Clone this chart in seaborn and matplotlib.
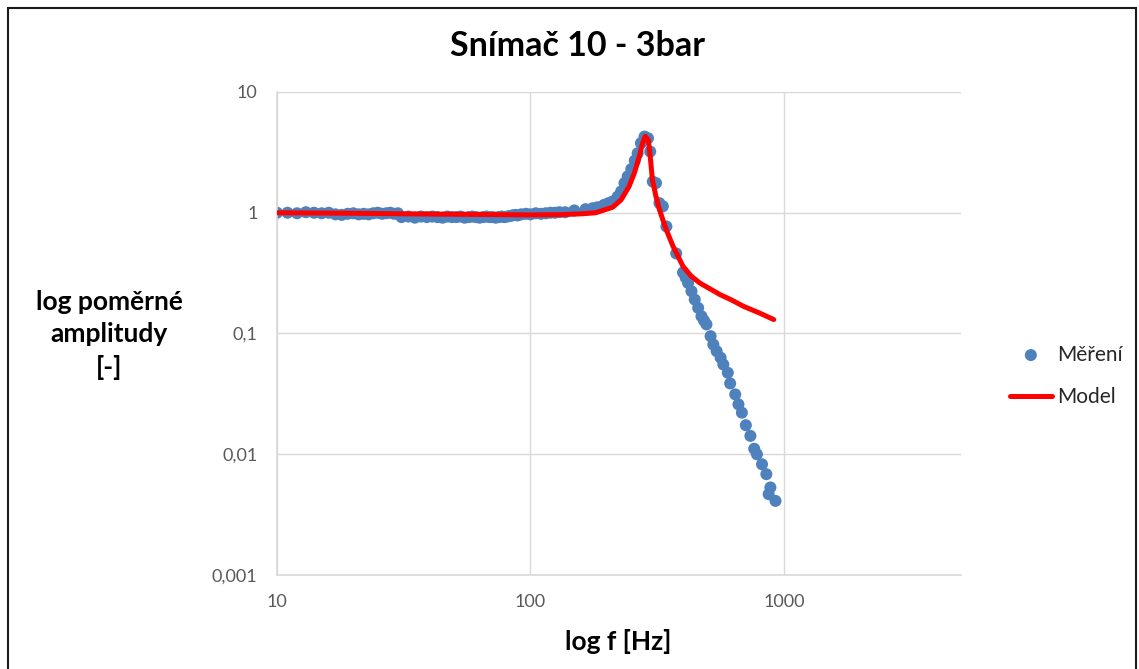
import matplotlib.pyplot as plt
import matplotlib.patches as patches
import pandas as pd
import seaborn as sns
from matplotlib.ticker import FixedLocator, NullLocator

meas_freq = [
    10, 11, 12, 13, 14, 15, 16, 17, 18, 19, 20, 21, 22, 23, 24, 25, 26, 27, 28, 29, 30,
    31, 33, 35, 37, 39, 41, 43, 45, 47, 49, 51, 53, 55, 57, 59, 61, 63, 65, 67, 69,
    71, 73, 75, 77, 79, 81, 83, 85, 87, 89,
    92, 96, 100, 105, 110, 115, 120, 125, 130, 137, 149, 165, 176, 184, 195, 203,
    211, 221, 228, 235, 242, 250, 258, 265, 273, 282, 291, 297, 304, 313, 323, 333,
    344, 376, 400, 410, 419, 432, 445, 459, 473, 484, 495, 514, 527, 543, 563, 577,
    601, 614, 643, 662, 683, 708, 738, 764, 783, 820, 853, 871, 885, 927,
]
meas_amp = [
    1.00, 1.00, 0.99, 1.01, 1.00, 0.99, 1.00, 0.97, 0.96, 0.98, 0.99, 0.97, 0.98, 0.97,
    0.99, 1.00, 0.98, 0.99, 1.00, 0.98, 0.99,
    0.92, 0.93, 0.91, 0.93, 0.92, 0.93, 0.92, 0.91, 0.93, 0.92, 0.92, 0.93, 0.91, 0.92,
    0.93, 0.92, 0.91, 0.92, 0.93, 0.92, 0.92, 0.91, 0.92, 0.93, 0.92, 0.93, 0.94, 0.95,
    0.96, 0.95,
    0.97, 0.98, 0.97, 0.99, 0.98, 0.99, 1.00, 1.00, 1.01, 1.01, 1.045, 1.07, 1.09, 1.11,
    1.16, 1.20, 1.24, 1.36, 1.50, 1.76, 2.00, 2.30, 2.70, 3.11, 3.77, 4.27, 4.14, 3.21,
    1.81, 1.76, 1.20, 1.13,
    0.77, 0.46, 0.32, 0.29, 0.262, 0.224, 0.191, 0.163, 0.139, 0.128, 0.119, 0.095,
    0.081, 0.0714, 0.063, 0.0554, 0.0473, 0.0386, 0.0313, 0.0259, 0.0221, 0.0174,
    0.0142, 0.0111, 0.0100, 0.00826, 0.00684, 0.00467, 0.00531, 0.00411,
]

# model curve
model_freq = [
    10, 20, 40, 70, 100, 133, 160, 181, 211, 228, 245, 257, 269, 277, 284, 292, 297,
    303, 313, 323, 333, 344, 365, 400, 430, 466, 510, 560, 620, 693, 800, 912,
]
model_amp = [
    1.00, 0.99, 0.975, 0.965, 0.96, 0.965, 0.98, 1.0, 1.11, 1.28, 1.65, 2.13, 2.92, 3.77,
    4.30, 4.00, 2.92, 1.87, 1.36, 1.06, 0.875, 0.72, 0.53, 0.36, 0.30, 0.262, 0.235,
    0.21, 0.19, 0.168, 0.148, 0.1305,
]

x_ticks = [10, 100, 1000]
x_tick_labels = ["10", "100", "1000"]
y_ticks = [0.001, 0.01, 0.1, 1, 10]
y_tick_labels = ["0,001", "0,01", "0,1", "1", "10"]

sns.set_theme(style="white")
plt.rcParams["font.family"] = ["Lato", "DejaVu Sans"]

meas = pd.DataFrame({"f": meas_freq, "amp": meas_amp})
model = pd.DataFrame({"f": model_freq, "amp": model_amp})

fig = plt.figure(figsize=(11.39, 6.69), dpi=100)
ax = fig.add_axes([0.2432, 0.1405, 0.6005, 0.7220])

sns.scatterplot(data=meas, x="f", y="amp", ax=ax, color="#4F81BD", s=75,
                edgecolor="none", label="Měření", zorder=2)
sns.lineplot(data=model, x="f", y="amp", ax=ax, color="#FF0000", linewidth=3.6,
             label="Model", zorder=3, sort=False)

ax.set_xscale("log")
ax.set_yscale("log")
ax.set_xlim(10, 5000)
ax.set_ylim(0.001, 10)
ax.xaxis.set_major_locator(FixedLocator(x_ticks))
ax.yaxis.set_major_locator(FixedLocator(y_ticks))
ax.xaxis.set_minor_locator(NullLocator())
ax.yaxis.set_minor_locator(NullLocator())
ax.set_xticklabels(x_tick_labels)
ax.set_yticklabels(y_tick_labels)
ax.tick_params(length=0, labelsize=13, labelcolor="#595959", pad=14)
ax.set_xlabel("")
ax.set_ylabel("")

ax.grid(True, which="major", color="#D9D9D9", linewidth=1)
for side in ["top", "right"]:
    ax.spines[side].set_visible(False)
for side in ["left", "bottom"]:
    ax.spines[side].set_color("#D9D9D9")
    ax.spines[side].set_linewidth(1.2)

fig.text(578 / 1139, 1 - 46 / 669, "Snímač 10 - 3bar", ha="center", va="center",
         fontsize=24.5, fontweight="bold", color="#000000")
fig.text(618 / 1139, 1 - 642 / 669, "log f [Hz]", ha="center", va="center",
         fontsize=19, fontweight="bold", color="#000000")
fig.text(109 / 1139, 1 - 335 / 669, "log poměrné\namplitudy\n[-]", ha="center",
         va="center", fontsize=19, fontweight="bold", color="#000000", linespacing=1.42)

ax.legend(loc="center left", bbox_to_anchor=(1010 / 1139, 1 - 376 / 669),
          bbox_transform=fig.transFigure, frameon=False, fontsize=15,
          handlelength=2.0, handletextpad=0.25, labelspacing=1.1, borderpad=0,
          borderaxespad=0, labelcolor="#262626")

fig.add_artist(patches.Rectangle((8 / 1139, -0.05), 1128 / 1139, 1.05 - 8 / 669,
                                 transform=fig.transFigure, fill=False,
                                 edgecolor="#1a1a1a", linewidth=1.5, clip_on=False))

fig.savefig("out.png", dpi=100)
